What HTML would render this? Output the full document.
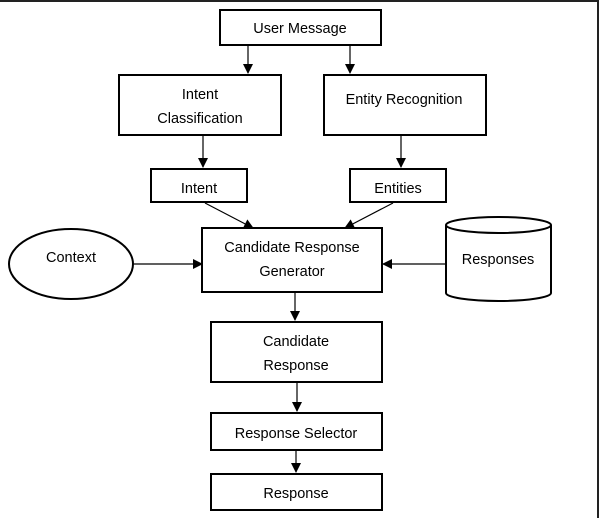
<!DOCTYPE html>
<html><head><meta charset="utf-8"><style>
html,body{margin:0;padding:0;background:#fff;}
svg{display:block;}
text{font-family:"Liberation Sans",sans-serif;font-size:14.5px;fill:#000;text-anchor:middle;}
</style></head><body>
<svg width="600" height="518" viewBox="0 0 600 518" xmlns="http://www.w3.org/2000/svg">
<defs><marker id="a" markerWidth="10" markerHeight="10" refX="9" refY="5" orient="auto" markerUnits="userSpaceOnUse"><path d="M0,0 L10,5 L0,10 z" fill="#000"/></marker></defs>
<line x1="0" y1="1" x2="598" y2="1" stroke="#222" stroke-width="2"/>
<line x1="598" y1="0" x2="598" y2="518" stroke="#222" stroke-width="2"/>
<g fill="#fff" stroke="#000" stroke-width="2">
<rect x="220" y="10" width="161" height="35"/>
<rect x="119" y="75" width="162" height="60"/>
<rect x="324" y="75" width="162" height="60"/>
<rect x="151" y="169" width="96" height="33"/>
<rect x="350" y="169" width="96" height="33"/>
<rect x="202" y="228" width="180" height="64"/>
<ellipse cx="71" cy="264" rx="62" ry="35"/>
<path d="M446,225 L446,293 A52.5,8 0 0 0 551,293 L551,225"/>
<ellipse cx="498.5" cy="225" rx="52.5" ry="8"/>
<rect x="211" y="322" width="171" height="60"/>
<rect x="211" y="413" width="171" height="37"/>
<rect x="211" y="474" width="171" height="36"/>
</g>
<g stroke="#000" stroke-width="1.2" marker-end="url(#a)">
<line x1="248" y1="45" x2="248" y2="73"/>
<line x1="350" y1="45" x2="350" y2="73"/>
<line x1="203" y1="135" x2="203" y2="167"/>
<line x1="401" y1="135" x2="401" y2="167"/>
<line x1="205" y1="203" x2="253" y2="228"/>
<line x1="393" y1="203" x2="345" y2="228"/>
<line x1="134" y1="264" x2="202" y2="264"/>
<line x1="446" y1="264" x2="383" y2="264"/>
<line x1="295" y1="292" x2="295" y2="320"/>
<line x1="297" y1="382" x2="297" y2="411"/>
<line x1="296" y1="450" x2="296" y2="472"/>
</g>
<text x="300" y="33">User Message</text>
<text x="200" y="99">Intent</text>
<text x="200" y="123">Classification</text>
<text x="404" y="104">Entity Recognition</text>
<text x="199" y="193">Intent</text>
<text x="398" y="193">Entities</text>
<text x="292" y="252">Candidate Response</text>
<text x="292" y="276">Generator</text>
<text x="71" y="262">Context</text>
<text x="498" y="264">Responses</text>
<text x="296" y="346">Candidate</text>
<text x="296" y="370">Response</text>
<text x="296" y="438">Response Selector</text>
<text x="296" y="498">Response</text>
</svg>
</body></html>
